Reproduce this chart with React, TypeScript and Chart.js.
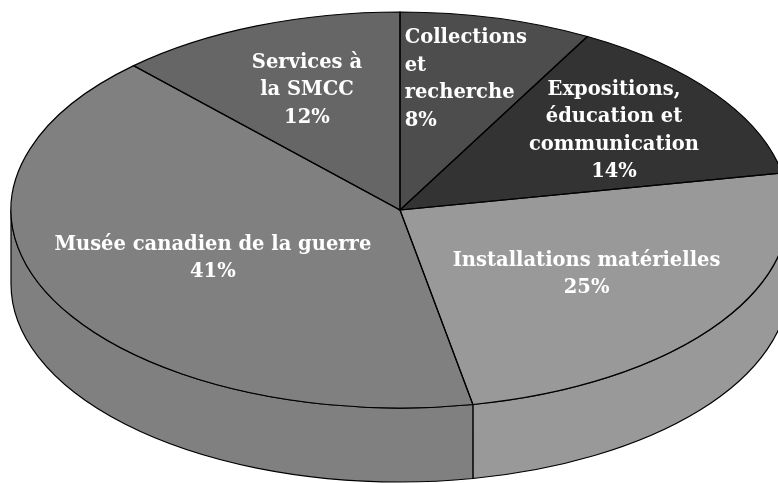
import { useEffect, useRef } from 'react';
import { Chart, registerables } from 'chart.js';

Chart.register(...registerables);

// ---- data ----
const categories = [
  'Collections et recherche',
  'Expositions, éducation et communication',
  'Installations matérielles',
  'Musée canadien de la guerre',
  'Services à la SMCC',
];
const labelLines = [
  ['Collections', 'et', 'recherche'],
  ['Expositions,', 'éducation et', 'communication'],
  ['Installations matérielles'],
  ['Musée canadien de la guerre'],
  ['Services à', 'la SMCC'],
];
const values = [8, 14, 25, 41, 12];
const colors = ['#4d4d4d', '#333333', '#999999', '#808080', '#666666'];

// ---- layout / style ----
const GEOM = { cx: 400, cy: 210, rx: 389, ry: 198, depth: 74 };
const labelRadius = [0.68, 0.68, 0.58, 0.54, 0.65];
const labelAlign: CanvasTextAlign[] = ['left', 'center', 'center', 'center', 'center'];
const FONT = 'bold 19.5px "DejaVu Serif", serif';
const LINE_H = 27.5;

const pie3d = {
  id: 'pie3d',
  beforeDatasetsDraw(chart: any) {
    const meta = chart.getDatasetMeta(0);
    const ctx: CanvasRenderingContext2D = chart.ctx;
    const { cx, cy, rx, ry, depth } = GEOM;
    // side walls (front half only)
    ctx.save();
    ctx.lineWidth = 1.2;
    ctx.strokeStyle = '#000';
    meta.data.forEach((arc: any, i: number) => {
      const s = Math.max(arc.startAngle, 0);
      const e = Math.min(arc.endAngle, Math.PI);
      if (e <= s) return;
      ctx.beginPath();
      ctx.ellipse(cx, cy, rx, ry, 0, s, e, false);
      ctx.lineTo(cx + rx * Math.cos(e), cy + depth + ry * Math.sin(e));
      ctx.ellipse(cx, cy + depth, rx, ry, 0, e, s, true);
      ctx.closePath();
      ctx.fillStyle = colors[i];
      ctx.fill();
      ctx.stroke();
    });
    ctx.restore();
    // squash the library's circle into the ellipse
    const a0 = meta.data[0];
    const R = a0.outerRadius;
    ctx.save();
    ctx.translate(cx, cy);
    ctx.scale(rx / R, ry / R);
    ctx.translate(-a0.x, -a0.y);
  },
  afterDatasetsDraw(chart: any) {
    const ctx: CanvasRenderingContext2D = chart.ctx;
    ctx.restore();
    const meta = chart.getDatasetMeta(0);
    const { cx, cy, rx, ry } = GEOM;
    ctx.save();
    ctx.lineWidth = 1.2;
    ctx.strokeStyle = '#000';
    meta.data.forEach((arc: any) => {
      ctx.beginPath();
      ctx.moveTo(cx, cy);
      ctx.ellipse(cx, cy, rx, ry, 0, arc.startAngle, arc.endAngle, false);
      ctx.closePath();
      ctx.stroke();
    });
    ctx.restore();
  },
  afterDraw(chart: any) {
    const ctx: CanvasRenderingContext2D = chart.ctx;
    const meta = chart.getDatasetMeta(0);
    const { cx, cy, rx, ry } = GEOM;
    const total = values.reduce((a, b) => a + b, 0);
    ctx.save();
    ctx.font = FONT;
    ctx.fillStyle = '#ffffff';
    ctx.textBaseline = 'middle';
    meta.data.forEach((arc: any, i: number) => {
      const mid = (arc.startAngle + arc.endAngle) / 2;
      const f = labelRadius[i];
      const x = cx + rx * f * Math.cos(mid);
      const y = cy + ry * f * Math.sin(mid);
      const lines = [...labelLines[i], Math.round((values[i] / total) * 100) + '%'];
      const n = lines.length;
      const maxW = Math.max(...lines.map((l) => ctx.measureText(l).width));
      lines.forEach((l, k) => {
        const ly = y + (k - (n - 1) / 2) * LINE_H;
        if (labelAlign[i] === 'left') {
          ctx.textAlign = 'left';
          ctx.fillText(l, x - maxW / 2, ly);
        } else {
          ctx.textAlign = 'center';
          ctx.fillText(l, x, ly);
        }
      });
    });
    ctx.restore();
  },
};

export default function App() {
  const ref = useRef<HTMLCanvasElement | null>(null);
  useEffect(() => {
    if (!ref.current) return;
    const chart = new Chart(ref.current, {
      type: 'pie',
      data: {
        labels: categories,
        datasets: [
          {
            data: values,
            backgroundColor: colors,
            borderWidth: 0,
            clip: false as any,
          },
        ],
      },
      options: {
        responsive: false,
        animation: false,
        layout: { padding: 0 },
        plugins: {
          legend: { display: false },
          tooltip: { enabled: false },
        },
      },
      plugins: [pie3d],
    });
    return () => chart.destroy();
  }, []);
  return (
    <div style={{ position: 'absolute', left: 0, top: 0, width: 778, height: 483, background: '#fff' }}>
      <canvas ref={ref} width={778} height={483} style={{ display: 'block' }} />
    </div>
  );
}
